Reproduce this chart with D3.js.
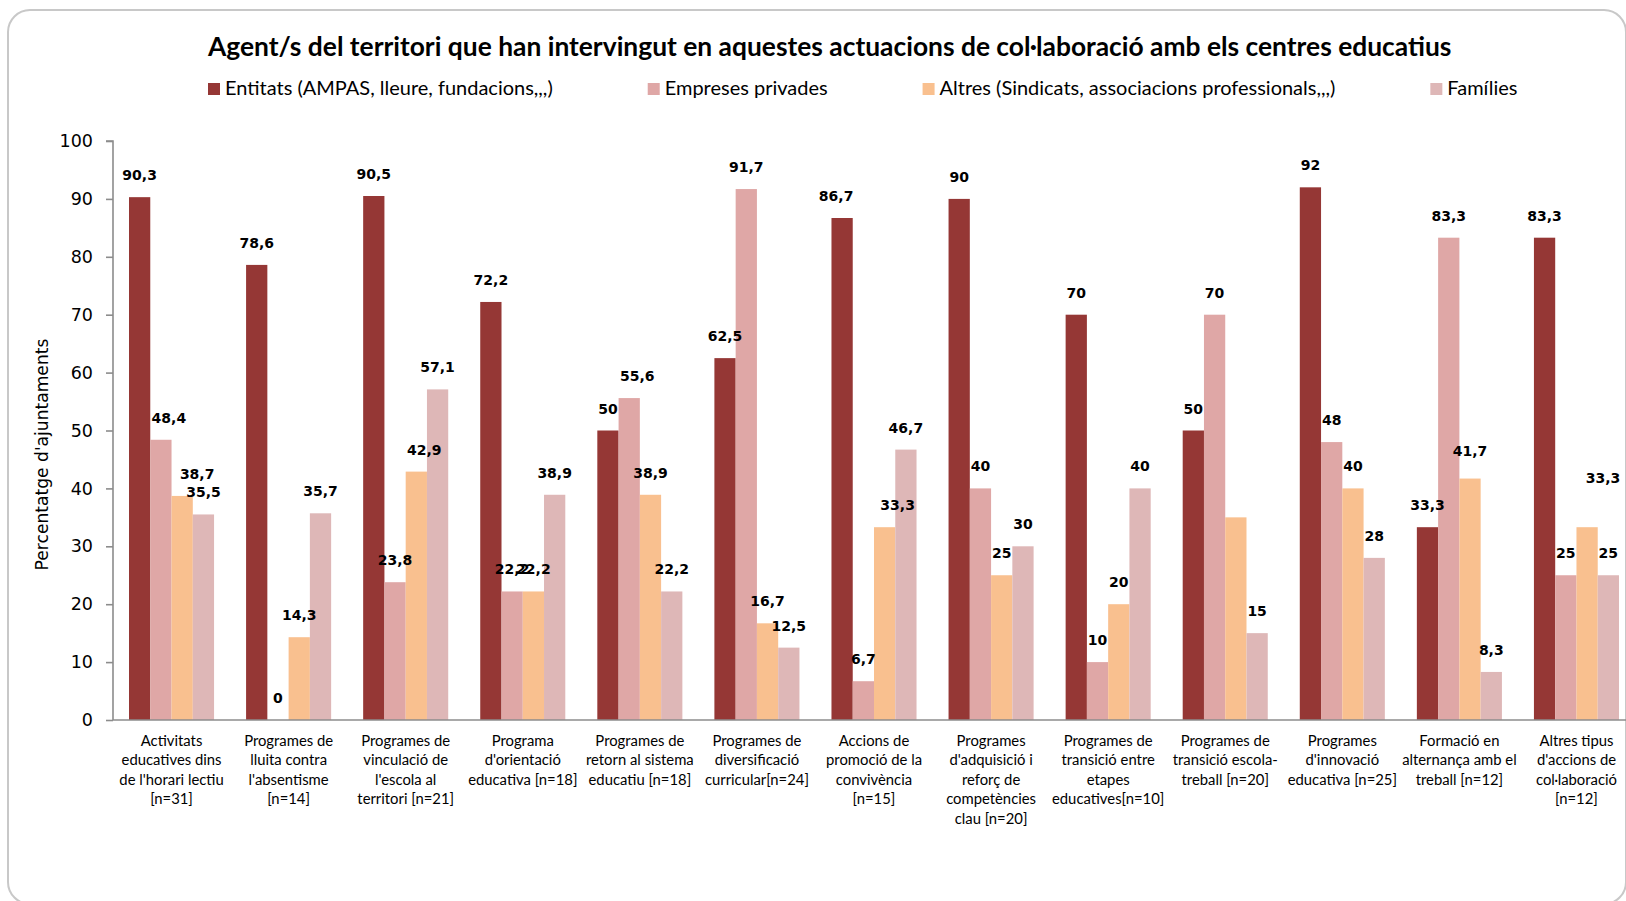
<!DOCTYPE html>
<html><head><meta charset="utf-8">
<script src="https://cdn.jsdelivr.net/npm/d3@7"></script>
<style>html,body{margin:0;padding:0;background:#fff;overflow:hidden}svg{display:block}</style>
</head><body>
<svg id="chart" width="1626" height="901"></svg>
<script>
const titleText = "Agent/s del territori que han intervingut en aquestes actuacions de col·laboració amb els centres educatius";
const yTitleText = "Percentatge d'ajuntaments";
const seriesNames = ["Entitats (AMPAS, lleure, fundacions,,,)", "Empreses privades", "Altres (Sindicats, associacions professionals,,,)", "Famílies"];
const categories = [
  "Activitats\neducatives dins\nde l'horari lectiu\n[n=31]",
  "Programes de\nlluita contra\nl'absentisme\n[n=14]",
  "Programes de\nvinculació de\nl'escola al\nterritori [n=21]",
  "Programa\nd'orientació\neducativa [n=18]",
  "Programes de\nretorn al sistema\neducatiu [n=18]",
  "Programes de\ndiversificació\ncurricular[n=24]",
  "Accions de\npromoció de la\nconvivència\n[n=15]",
  "Programes\nd'adquisició i\nreforç de\ncompetències\nclau [n=20]",
  "Programes de\ntransició entre\netapes\neducatives[n=10]",
  "Programes de\ntransició escola-\ntreball [n=20]",
  "Programes\nd'innovació\neducativa [n=25]",
  "Formació en\nalternança amb el\ntreball [n=12]",
  "Altres tipus\nd'accions de\ncol·laboració\n[n=12]"
];
const entitats = [90.3, 78.6, 90.5, 72.2, 50, 62.5, 86.7, 90, 70, 50, 92, 33.3, 83.3];
const empreses = [48.4, 0, 23.8, 22.2, 55.6, 91.7, 6.7, 40, 10, 70, 48, 83.3, 25];
const altres   = [38.7, 14.3, 42.9, 22.2, 38.9, 16.7, 33.3, 25, 20, 35, 40, 41.7, 33.3];
const families = [35.5, 35.7, 57.1, 38.9, 22.2, 12.5, 46.7, 30, 40, 15, 28, 8.3, 25];
const yTicks = [0, 10, 20, 30, 40, 50, 60, 70, 80, 90, 100];
// labels not shown in the original (category index, series index)
const hiddenLabels = [[9, 2]];

// ---- style / layout (kept separate from the data) ----
const colors = ["#953735", "#DFA7A6", "#F9C08F", "#DEB7B7"];
const labelNudges = { "0-1": [8, 0], "0-2": [15, 0], "2-2": [8, 0], "4-1": [8, 0], "6-0": [-6, 0], "6-2": [13, 0], "11-2": [0, -6], "12-2": [16, -27] };
const axisX = 113, baseY = 720, topY = 141;

const svg = d3.select("#chart");
const allSeries = [entitats, empreses, altres, families];

function fitSize(text, family, weight, target) {
  const t = svg.append("text").attr("font-family", family).attr("font-weight", weight).attr("font-size", 100).text(text);
  const w = t.node().getComputedTextLength();
  t.remove();
  return 100 * target / w;
}

// frame
svg.append("rect").attr("x", 8).attr("y", 10).attr("width", 1618).attr("height", 894)
  .attr("rx", 22).attr("fill", "none").attr("stroke", "#C8C8C8").attr("stroke-width", 2);

const y = d3.scaleLinear().domain([0, 100]).range([baseY, topY]);
const x0 = d3.scaleBand().domain(d3.range(categories.length)).range([axisX, 1635]).paddingInner(0.2735).paddingOuter(0.1367);
const x1 = d3.scaleBand().domain(d3.range(seriesNames.length)).range([0, x0.bandwidth()]);

// title
const titleFont = "Lato, 'Open Sans', sans-serif";
const numFont = "'DejaVu Sans', Verdana, sans-serif";
const tSize = fitSize(titleText, titleFont, 700, 1244);
svg.append("text").attr("x", 208).attr("y", 56).attr("font-family", titleFont).attr("font-weight", 700)
  .attr("font-size", tSize).attr("fill", "#000").text(titleText);

// legend
const legSize = fitSize(seriesNames[0], titleFont, 400, 328);
let lx = 208;
seriesNames.forEach((name, i) => {
  const g = svg.append("g").attr("transform", `translate(${lx},0)`);
  g.append("rect").attr("x", 0).attr("y", 83).attr("width", 12).attr("height", 12).attr("fill", colors[i]);
  const t = g.append("text").attr("x", 17).attr("y", 95).attr("font-family", titleFont).attr("font-size", legSize)
    .attr("fill", "#000").text(name);
  lx += 17 + t.node().getComputedTextLength() + 95;
});

// y axis
const yAxis = d3.axisLeft(y).tickValues(yTicks).tickSize(7).tickPadding(13).tickFormat(d3.format("d"));
const ga = svg.append("g").attr("transform", `translate(${axisX},0)`).call(yAxis);
ga.select(".domain").attr("stroke", "#8C8C8C").attr("stroke-width", 1.6).attr("d", `M-7,${topY}H0V${baseY}`);
ga.selectAll(".tick line").attr("stroke", "#8C8C8C").attr("stroke-width", 1.6);
ga.selectAll(".tick text").attr("font-family", numFont).attr("font-size", 17.5).attr("fill", "#000");

// y title
const ytSize = fitSize(yTitleText, numFont, 400, 232);
svg.append("text").attr("transform", `translate(48,${(337 + 572) / 2}) rotate(-90)`).attr("text-anchor", "middle")
  .attr("font-family", numFont).attr("font-size", ytSize).attr("fill", "#000").text(yTitleText);

// bars
const groups = svg.append("g").selectAll("g").data(categories).join("g")
  .attr("transform", (d, i) => `translate(${x0(i)},0)`);
groups.each(function (c, ci) {
  const g = d3.select(this);
  allSeries.forEach((s, si) => {
    const v = s[ci];
    g.append("rect").attr("x", x1(si)).attr("y", y(v)).attr("width", x1.bandwidth()).attr("height", baseY - y(v))
      .attr("fill", colors[si]);
  });
});

// x axis line
svg.append("line").attr("x1", axisX).attr("x2", 1626).attr("y1", baseY).attr("y2", baseY)
  .attr("stroke", "#8C8C8C").attr("stroke-width", 1.6);

// data labels
const fmt = v => String(v).replace(".", ",");
groups.each(function (c, ci) {
  const g = d3.select(this);
  allSeries.forEach((s, si) => {
    if (hiddenLabels.some(h => h[0] === ci && h[1] === si)) return;
    const v = s[ci];
    const n = labelNudges[ci + "-" + si] || [0, 0];
    g.append("text").attr("x", x1(si) + x1.bandwidth() / 2 + n[0]).attr("y", y(v) - 17 + n[1])
      .attr("text-anchor", "middle").attr("font-family", numFont)
      .attr("font-weight", 700).attr("font-size", 14).attr("fill", "#000").text(fmt(v));
  });
});

// category labels
const catSize = fitSize("Programes de", titleFont, 400, 89);
groups.each(function (c, ci) {
  const t = d3.select(this).append("text").attr("text-anchor", "middle")
    .attr("font-family", titleFont).attr("font-size", catSize).attr("fill", "#000");
  c.split("\n").forEach((line, li) => {
    t.append("tspan").attr("x", x0.bandwidth() / 2).attr("y", 746 + li * 19.4).text(line);
  });
});
</script>
</body></html>
